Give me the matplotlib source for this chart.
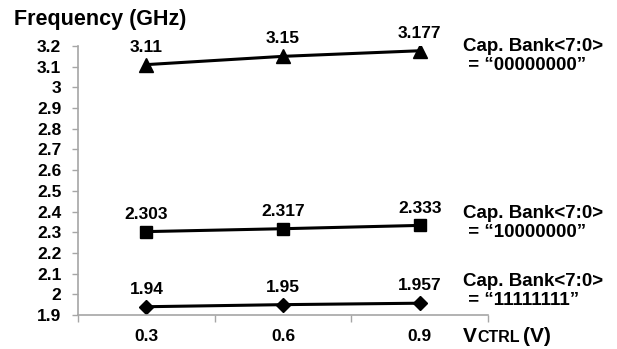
import matplotlib
matplotlib.use('Agg')
import matplotlib.pyplot as plt

plt.rcParams['font.family'] = ['Liberation Sans', 'DejaVu Sans']
plt.rcParams['font.weight'] = 'bold'

# data
vctrl = ['0.3', '0.6', '0.9']
freq_00 = [3.11, 3.15, 3.177]
freq_80 = [2.303, 2.317, 2.333]
freq_ff = [1.94, 1.95, 1.957]
labels_00 = ['3.11', '3.15', '3.177']
labels_80 = ['2.303', '2.317', '2.333']
labels_ff = ['1.94', '1.95', '1.957']
bank_names = ['Cap. Bank<7:0>\n = \u201c00000000\u201d',
              'Cap. Bank<7:0>\n = \u201c10000000\u201d',
              'Cap. Bank<7:0>\n = \u201c11111111\u201d']
bank_label_y = [56, 223, 291]   # pixel rows of the label blocks
yticks = [1.9, 2, 2.1, 2.2, 2.3, 2.4, 2.5, 2.6, 2.7, 2.8, 2.9, 3, 3.1, 3.2]

W, H = 617, 349
fig = plt.figure(figsize=(W/100, H/100), dpi=100)
ax = fig.add_axes([78/W, 34/H, 410/W, 269/H])

x = list(range(len(vctrl)))
series = [(freq_00, labels_00, '^', 10), (freq_80, labels_80, 's', 9), (freq_ff, labels_ff, 'D', 7)]
for ys, labs, mk, ms in series:
    ax.plot(x, ys, color='black', lw=2.2, marker=mk, markersize=ms)
    for xi, yi, lab in zip(x, ys, labs):
        ax.annotate(lab, (xi, yi), xytext=(0, 12.5), textcoords='offset points',
                    ha='center', va='center', fontsize=12.5, fontweight='bold')

ax.set_xlim(-0.5, 2.5)
ax.set_ylim(1.9, 3.2)
ax.set_yticks(yticks)
ax.set_yticklabels([f'{t:g}' for t in yticks])
ax.set_xticks(x)
ax.set_xticklabels(vctrl)
ax.set_xticks([-0.5, 0.5, 1.5, 2.5], minor=True)
ax.tick_params(axis='x', which='major', length=0, pad=10, labelsize=12.5)
ax.tick_params(axis='x', which='minor', length=5, color='#a6a6a6', width=1)
ax.tick_params(axis='y', which='major', length=4, color='#a6a6a6', width=1, pad=8, labelsize=12.5)
for t in ax.get_xticklabels() + ax.get_yticklabels():
    t.set_fontweight('bold')

for s in ['top', 'right']:
    ax.spines[s].set_visible(False)
for s in ['left', 'bottom']:
    ax.spines[s].set_color('#a6a6a6')
    ax.spines[s].set_linewidth(1.2)

# series names to the right
for name, py in zip(bank_names, bank_label_y):
    fig.text(463/W, 1 - py/H, name, ha='left', va='center', fontsize=13.5,
             fontweight='bold', linespacing=1.2)

fig.text(14/W, 1 - 20/H, 'Frequency (GHz)', fontsize=15.5, fontweight='bold',
         ha='left', va='center')

# V_CTRL (V) with small caps subscript look
fig.canvas.draw()
r = fig.canvas.get_renderer()
t1 = fig.text(463/W, 1 - 336/H, 'V', fontsize=15, fontweight='bold', ha='left', va='center')
x1 = t1.get_window_extent(r).x1
t2 = fig.text(x1/W, 1 - 337/H, 'CTRL', fontsize=11.5, fontweight='bold', ha='left', va='center')
x2 = t2.get_window_extent(r).x1
fig.text((x2 + 4)/W, 1 - 336/H, '(V)', fontsize=15, fontweight='bold', ha='left', va='center')

fig.savefig('out.png', dpi=100)
